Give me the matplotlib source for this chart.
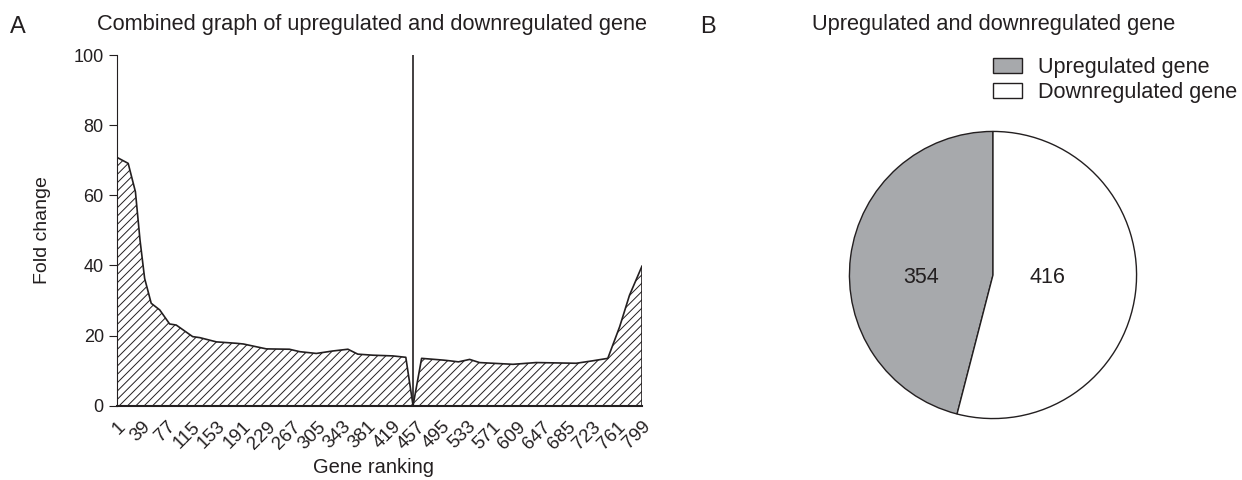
import numpy as np
import matplotlib
matplotlib.use("Agg")
import matplotlib.pyplot as plt
from matplotlib.patches import Patch

plt.rcParams['font.family'] = ['Liberation Sans', 'DejaVu Sans']
plt.rcParams['hatch.linewidth'] = 0.7
ink = '#231f20'

# panel A: fold change along gene ranking
rank = [1, 18, 29, 36, 43, 53, 66, 81, 91, 116, 127, 152, 182, 193, 213, 228,
        263, 279, 304, 329, 352, 367, 390, 420, 440, 451, 464, 497, 507, 520,
        537, 552, 603, 638, 699, 724, 747, 765, 780, 799]
fold = [70.8, 69.1, 61.0, 47.2, 36.3, 29.2, 27.3, 23.3, 23.0, 19.7, 19.4, 18.2,
        17.8, 17.6, 16.8, 16.2, 16.1, 15.4, 14.9, 15.6, 16.1, 14.7, 14.4, 14.2,
        13.8, 0.0, 13.5, 13.0, 12.8, 12.5, 13.2, 12.3, 11.8, 12.3, 12.1, 12.8,
        13.5, 22.5, 31.5, 39.8]
split_rank = 451
xtick_vals = list(range(1, 800, 38))

# panel B: gene counts
pie_labels = ['Upregulated gene', 'Downregulated gene']
pie_counts = [354, 416]
pie_colors = ['#a7a9ac', 'white']

fig = plt.figure(figsize=(12.42, 4.8), dpi=100)

# ---- panel A
ax = fig.add_axes([117 / 1242, 1 - 405.7 / 480, 525 / 1242, 350.7 / 480])
ax.fill_between(rank, fold, 0, facecolor='white', edgecolor=ink,
                hatch='////', linewidth=0)
ax.plot(rank, fold, color=ink, lw=1.2)
ax.vlines(rank[-1], 0, fold[-1], color=ink, lw=1.2)
ax.axvline(split_rank, color=ink, lw=1.2)

ax.set_xlim(1, 799)
ax.set_ylim(0, 100)
ax.spines['top'].set_visible(False)
ax.spines['right'].set_visible(False)
ax.spines['left'].set_color(ink)
ax.spines['bottom'].set_color(ink)
ax.spines['bottom'].set_linewidth(1.5)
ax.set_yticks([0, 20, 40, 60, 80, 100])
ax.set_xticks(xtick_vals)
ax.set_xticklabels([str(v) for v in xtick_vals], rotation=45, ha='right',
                   rotation_mode='anchor', fontsize=13.5, color=ink)
ax.set_xticks([1, 799], minor=True)
ax.tick_params(axis='x', which='major', length=0, pad=9)
ax.tick_params(axis='x', which='minor', length=6, color=ink)
ax.tick_params(axis='y', length=6, color=ink, labelsize=13, labelcolor=ink)
ax.set_ylabel('Fold change', fontsize=14, color=ink)
ax.yaxis.set_label_coords(-0.125, 0.5)
ax.set_xlabel('Gene ranking', fontsize=14.5, color=ink)
ax.xaxis.set_label_coords(0.488, -0.15)

fig.text(10 / 1242, 1 - 33 / 480, 'A', fontsize=17, color=ink)
fig.text(97 / 1242, 1 - 30 / 480, 'Combined graph of upregulated and downregulated gene',
         fontsize=15.7, color=ink)

# ---- panel B
ax2 = fig.add_axes([848 / 1242, 1 - 420 / 480, 290 / 1242, 290 / 480])
wedges, texts = ax2.pie(pie_counts, colors=pie_colors, startangle=90,
                        counterclock=True,
                        wedgeprops=dict(edgecolor=ink, linewidth=1))
label_x = [-0.5, 0.38]
for lx, n in zip(label_x, pie_counts):
    ax2.text(lx, -0.02, str(n), ha='center', va='center', fontsize=15.5,
             color=ink)
ax2.set_xlim(-1.01, 1.01)
ax2.set_ylim(-1.01, 1.01)
ax2.set_aspect('equal')

fig.text(700 / 1242, 1 - 33 / 480, 'B', fontsize=17, color=ink)
fig.text(812 / 1242, 1 - 30 / 480, 'Upregulated and downregulated gene',
         fontsize=15.7, color=ink)

handles = [Patch(facecolor=c, edgecolor=ink, linewidth=1) for c in pie_colors]
fig.legend(handles, pie_labels, loc='upper left',
           bbox_to_anchor=(993 / 1242, 1 - 57 / 480), frameon=False,
           fontsize=15.6, borderpad=0, handlelength=1.35, handleheight=0.7,
           handletextpad=0.75, labelspacing=0.2, borderaxespad=0,
           labelcolor=ink)

fig.savefig('out.png', dpi=100)
